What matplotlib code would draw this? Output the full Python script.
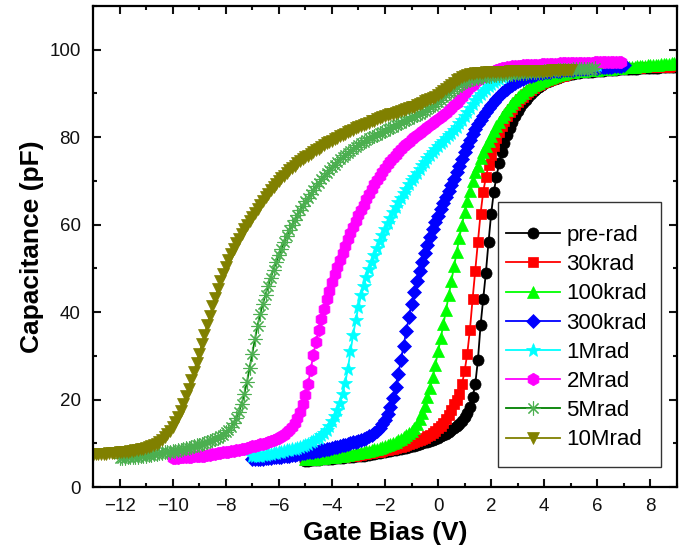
import numpy as np
import matplotlib
matplotlib.use("Agg")
import matplotlib.pyplot as plt
from matplotlib.ticker import MultipleLocator
from matplotlib.patches import Rectangle

plt.rcParams['font.family'] = ['Liberation Sans', 'DejaVu Sans']

labels = ["pre-rad", "30krad", "100krad", "300krad", "1Mrad", "2Mrad", "5Mrad", "10Mrad"]
v_start = [-5.0, -5.0, -5.0, -7.0, -7.0, -10.0, -12.0, -13.0]
v_step = 0.1

C_pre = [6.0,6.05,6.1,6.15,6.2,6.25,6.3,6.35,6.4,6.45, 6.5,6.55,6.6,6.65,6.7,6.75,6.8,6.9,6.95,7.0,
         7.1,7.15,7.2,7.3,7.4,7.5,7.6,7.7,7.8,7.95,
         8.1,8.2,8.3,8.4,8.5,8.6,8.75,8.9,9.0,9.15,
         9.3,9.45,9.6,9.8,10.0,10.2,10.4,10.6,10.8,11.0,
         11.3,11.6,11.9,12.2,12.6,13.0,13.4,13.9,14.5,15.2,
         16.0,17.0,18.3,20.5,23.5,29.0,37.0,43.0,49.0,56.0,
         62.5,67.5,71.0,74.0,76.5,78.7,80.5,82.1,83.5,84.8,
         85.9,86.9,87.8,88.6,89.3,89.9,90.5,91.0,91.5,91.9,
         92.3,92.6,92.9,93.2,93.4,93.6,93.8,94.0,94.2,94.3,
         94.4,94.5,94.6,94.7,94.8,94.85,94.9,94.95,95.0,95.05,
         95.1,95.15,95.2,95.25,95.3,95.35,95.4,95.45,95.5,95.5,
         95.55,95.6,95.6,95.65,95.7,95.7,95.75,95.8,95.8,95.85,
         95.85,95.9,95.9,95.9,95.95,95.95,96.0,96.0,96.0,96.0,96.0]

C_30k = [6.2,6.25,6.3,6.35,6.4,6.45,6.5,6.55,6.6,6.65,
         6.7,6.75,6.8,6.85,6.9,6.95,7.0,7.1,7.15,7.2,
         7.3,7.4,7.5,7.6,7.7,7.8,7.9,8.0,8.1,8.25,
         8.4,8.5,8.65,8.8,8.95,9.1,9.25,9.4,9.6,9.8,
         10.0,10.2,10.45,10.7,11.0,11.3,11.6,12.0,12.4,12.9,
         13.4,14.0,14.7,15.5,16.4,17.5,18.9,20.0,21.3,23.5,
         26.5,30.5,36.0,43.0,49.5,56.0,62.5,67.5,70.8,73.6,
         76.0,78.0,79.7,81.2,82.5,83.7,84.8,85.7,86.5,87.3,
         88.0,88.7,89.3,89.9,90.4,90.9,91.3,91.7,92.0,92.3,
         92.6,92.9,93.1,93.3,93.5,93.7,93.9,94.1,94.3,94.45,
         94.6,94.7,94.8,94.9,95.0,95.05,95.1,95.15,95.2,95.25,
         95.3,95.35,95.4,95.45,95.5,95.55,95.6,95.65,95.7,95.7,
         95.75,95.8,95.8,95.85,95.85,95.9,95.9,95.95,95.95,96.0,
         96.0,96.05,96.05,96.1,96.1,96.1,96.15,96.15,96.2,96.2,96.2]

C_100k = [6.3,6.35,6.4,6.45,6.5,6.55,6.6,6.7,6.75,6.8,
          6.9,6.95,7.0,7.1,7.2,7.3,7.4,7.5,7.6,7.7,
          7.8,7.9,8.0,8.15,8.3,8.45,8.6,8.8,9.0,9.2,
          9.4,9.6,9.85,10.1,10.4,10.7,11.0,11.4,11.8,12.3,
          12.9,13.6,14.5,15.6,17.0,18.6,20.5,22.7,25.2,28.0,
          31.0,34.0,37.2,40.5,43.8,47.0,50.5,53.8,57.0,60.0,
          62.8,65.4,67.8,70.0,72.0,73.5,75.2,76.7,78.0,79.2,
          80.3,81.4,82.5,83.5,84.5,85.4,86.3,87.1,87.8,88.5,
          89.1,89.7,90.2,90.7,91.1,91.5,91.9,92.2,92.5,92.8,
          93.1,93.35,93.6,93.8,94.0,94.2,94.35,94.5,94.65,94.8,
          94.9,95.0,95.05,95.1,95.15,95.2,95.25,95.3,95.35,95.4,
          95.45,95.5,95.55,95.6,95.65,95.7,95.75,95.8,95.85,95.9,
          95.95,96.0,96.05,96.1,96.15,96.2,96.25,96.3,96.35,96.4,
          96.45,96.5,96.55,96.6,96.65,96.7,96.75,96.8,96.85,96.9,96.95]

C_300k = [6.3,6.35,6.4,6.45,6.5,6.55,6.6,6.7,6.75,6.8,
          6.9,6.95,7.0,7.1,7.2,7.3,7.4,7.5,7.6,7.7,
          7.8,7.9,8.0,8.1,8.2,8.3,8.4,8.5,8.65,8.8,
          8.95,9.1,9.25,9.4,9.55,9.7,9.85,10.0,10.2,10.4,
          10.6,10.8,11.0,11.3,11.6,12.0,12.4,12.9,13.5,14.3,
          15.3,16.6,18.3,20.4,22.9,25.8,29.0,32.3,35.6,38.8,
          41.9,44.6,47.1,49.4,51.5,53.5,55.4,57.2,58.9,60.5,
          62.0,63.5,64.9,66.3,67.7,69.1,70.5,72.0,73.5,75.0,
          76.5,78.0,79.4,80.7,81.9,83.0,84.0,84.9,85.8,86.6,
          87.4,88.1,88.8,89.4,90.0,90.6,91.1,91.6,92.0,92.4,
          92.8,93.1,93.4,93.7,93.9,94.1,94.3,94.5,94.6,94.7,
          94.8,94.9,95.0,95.05,95.1,95.15,95.2,95.25,95.3,95.35,
          95.4,95.45,95.5,95.55,95.6,95.65,95.7,95.75,95.8,95.85,
          95.9,95.95,96.0,96.05,96.1,96.15,96.2,96.25,96.3,96.35,96.4]

C_1M = [7.0,7.05,7.1,7.2,7.3,7.4,7.5,7.6,7.7,7.8,
        7.9,8.0,8.2,8.35,8.5,8.65,8.8,9.0,9.2,9.4,
        9.6,9.9,10.2,10.5,10.9,11.3,11.8,12.4,13.1,14.0,
        15.0,16.2,17.6,19.3,21.3,23.8,27.0,31.0,34.8,38.2,
        41.2,43.8,46.0,48.0,49.8,51.5,53.1,54.7,56.2,57.6,
        59.0,60.3,61.6,62.8,64.0,65.1,66.2,67.2,68.2,69.2,
        70.1,71.0,71.9,72.8,73.6,74.4,75.2,75.9,76.6,77.3,
        78.0,78.6,79.2,79.8,80.4,81.0,81.7,82.4,83.2,84.0,
        84.9,85.8,86.7,87.6,88.4,89.1,89.8,90.5,91.1,91.7,
        92.2,92.6,93.0,93.4,93.8,94.1,94.4,94.7,94.9,95.1,
        95.3,95.4,95.5,95.55,95.6,95.65,95.7,95.75,95.8,95.85,
        95.9,95.95,96.0,96.0,96.05,96.1,96.1,96.15,96.2,96.2,
        96.25,96.3,96.3,96.35,96.4,96.4,96.45,96.5,96.5,96.55,96.6]

C_2M = [6.6,6.65,6.7,6.75,6.8,6.85,6.9,6.95,7.0,7.05,
        7.1,7.15,7.2,7.3,7.4,7.5,7.6,7.7,7.8,7.9,
        8.0,8.1,8.2,8.3,8.4,8.5,8.65,8.8,8.95,9.1,
        9.3,9.45,9.6,9.75,9.9,10.1,10.3,10.5,10.75,11.0,
        11.3,11.6,12.0,12.5,13.1,13.8,14.7,15.8,17.2,19.0,
        21.0,23.5,26.8,30.2,33.2,36.0,38.5,40.8,42.9,44.9,
        46.8,48.6,50.3,52.0,53.6,55.1,56.6,58.0,59.4,60.8,
        62.1,63.4,64.6,65.8,67.0,68.1,69.2,70.2,71.2,72.1,
        73.0,73.8,74.6,75.3,76.0,76.7,77.3,77.9,78.5,79.0,
        79.5,80.0,80.5,81.0,81.4,81.9,82.3,82.8,83.2,83.7,
        84.1,84.6,85.1,85.6,86.1,86.7,87.3,87.9,88.6,89.3,
        90.0,90.7,91.4,92.0,92.6,93.1,93.6,94.0,94.4,94.7,
        95.0,95.2,95.4,95.6,95.75,95.9,96.0,96.1,96.2,96.25,
        96.3,96.35,96.4,96.45,96.5,96.5,96.55,96.6,96.6,96.65,
        96.7,96.7,96.75,96.75,96.8,96.8,96.85,96.85,96.9,96.9,
        96.9,96.95,96.95,97.0,97.0,97.0,97.05,97.05,97.05,97.1,
        97.1,97.1,97.1,97.15,97.15,97.15,97.2,97.2,97.2,97.2]

C_5M = [6.6,6.65,6.7,6.75,6.8,6.85,6.9,6.95,7.0,7.1,
        7.2,7.3,7.4,7.5,7.6,7.7,7.8,7.9,8.0,8.1,
        8.2,8.3,8.4,8.55,8.7,8.85,9.0,9.15,9.3,9.5,
        9.7,9.9,10.1,10.3,10.5,10.75,11.0,11.3,11.6,12.0,
        12.5,13.1,13.8,14.7,15.8,17.2,19.0,21.3,24.0,27.2,
        30.5,33.8,36.9,39.6,41.9,44.0,46.0,47.9,49.7,51.4,
        53.0,54.5,56.0,57.4,58.7,59.9,61.1,62.2,63.3,64.3,
        65.3,66.2,67.1,68.0,68.8,69.6,70.4,71.1,71.8,72.5,
        73.1,73.7,74.3,74.9,75.4,75.9,76.4,76.9,77.4,77.8,
        78.2,78.6,79.0,79.4,79.7,80.0,80.3,80.6,80.9,81.2,
        81.5,81.8,82.1,82.4,82.7,83.0,83.3,83.6,83.9,84.2,
        84.5,84.8,85.1,85.4,85.7,86.0,86.4,86.8,87.2,87.6,
        88.1,88.6,89.1,89.6,90.1,90.6,91.1,91.5,91.9,92.3,
        92.6,92.9,93.1,93.3,93.5,93.6,93.7,93.8,93.9,94.0,
        94.1,94.15,94.2,94.25,94.3,94.35,94.4,94.45,94.5,94.55,
        94.6,94.65,94.7,94.75,94.8,94.85,94.9,94.95,95.0,95.0,
        95.05,95.1,95.15,95.2,95.2,95.25,95.3,95.35,95.4,95.4,
        95.45,95.5,95.5,95.55,95.6,95.6,95.65,95.7,95.7,95.75]

C_10M = [7.4,7.45,7.5,7.55,7.6,7.65,7.7,7.75,7.8,7.85,
         7.9,7.95,8.0,8.1,8.2,8.3,8.4,8.5,8.6,8.75,
         8.9,9.1,9.3,9.6,9.9,10.3,10.8,11.4,12.1,12.9,
         13.8,14.8,16.0,17.4,19.0,20.7,22.5,24.4,26.4,28.4,
         30.5,32.6,34.8,37.0,39.2,41.3,43.3,45.2,47.0,48.7,
         50.3,51.8,53.2,54.5,55.7,56.8,57.9,58.9,59.9,60.9,
         61.8,62.7,63.6,64.5,65.4,66.3,67.1,67.9,68.6,69.3,
         70.0,70.6,71.2,71.8,72.4,73.0,73.5,74.0,74.5,75.0,
         75.4,75.8,76.2,76.6,77.0,77.4,77.8,78.2,78.6,78.9,
         79.2,79.6,79.9,80.2,80.5,80.8,81.1,81.4,81.7,82.0,
         82.3,82.6,82.8,83.1,83.3,83.6,83.8,84.1,84.3,84.5,
         84.8,85.0,85.2,85.4,85.6,85.8,86.0,86.2,86.4,86.6,
         86.8,87.0,87.3,87.6,87.9,88.2,88.5,88.8,89.0,89.3,
         89.6,90.0,90.5,91.0,91.5,92.0,92.5,93.0,93.4,93.7,
         94.0,94.2,94.35,94.5,94.6,94.65,94.7,94.75,94.8,94.85,
         94.9,94.9,94.95,94.95,95.0,95.0,95.0,95.05,95.05,95.05,
         95.1,95.1,95.1,95.1,95.15,95.15,95.15,95.15,95.2,95.2,
         95.2,95.2,95.2,95.25,95.25,95.25,95.25,95.3,95.3,95.3,95.3]

series = [C_pre, C_30k, C_100k, C_300k, C_1M, C_2M, C_5M, C_10M]

line_colors = ["#000000", "#FF0000", "#00FF00", "#0000FF", "#00FFFF", "#FF00FF", "#008000", "#808000"]
face_colors = ["#000000", "#FF0000", "#00FF00", "#0000FF", "#00FFFF", "#FF00FF", "none", "#808000"]
edge_colors = ["#000000", "#FF0000", "#00FF00", "#0000FF", "#00FFFF", "#FF00FF", "#4CAF50", "#808000"]
markers = ["o", "s", "^", "D", "*", "h", (8, 2, 0), "v"]
msizes = [8, 7, 8.5, 6.8, 10.5, 9, 10, 8.5]

fig = plt.figure(figsize=(6.92, 5.59), dpi=100)
ax = fig.add_axes([0.1344, 0.1288, 0.8439, 0.8605])

for lab, st, C, lc, fc, ec, mk, ms in zip(labels, v_start, series, line_colors,
                                          face_colors, edge_colors, markers, msizes):
    V = st + v_step * np.arange(len(C))
    ax.plot(V, C, color=lc, lw=1.3, marker=mk, ms=ms, mfc=fc, mec=ec,
            mew=0.8 if mk == (8, 2, 0) else 0.5, label=lab)

ax.set_xlim(-13, 9)
ax.set_ylim(0, 110)
ax.xaxis.set_major_locator(MultipleLocator(2))
ax.xaxis.set_minor_locator(MultipleLocator(1))
ax.yaxis.set_major_locator(MultipleLocator(20))
ax.yaxis.set_minor_locator(MultipleLocator(10))
ax.set_xticks(np.arange(-12, 9, 2))
ax.tick_params(which='both', direction='in', top=True, right=True, width=1.5,
               labelsize=13.5, colors='#111111')
ax.tick_params(which='major', length=6)
ax.tick_params(which='minor', length=3)
ax.tick_params(axis='x', pad=8)
ax.tick_params(axis='y', pad=9)
for sp in ax.spines.values():
    sp.set_linewidth(1.6)

ax.set_xlabel("Gate Bias (V)", fontsize=19, fontweight='bold', labelpad=4)
ax.set_ylabel("Capacitance (pF)", fontsize=19, fontweight='bold', labelpad=4)

# legend frame drawn as a box in axes coordinates
ax.add_patch(Rectangle((0.693, 0.042), 0.280, 0.551, transform=ax.transAxes,
                       facecolor='white', edgecolor='#333333', lw=1.0, zorder=4.5))
leg = ax.legend(loc='upper left', bbox_to_anchor=(0.708, 0.545), borderaxespad=0,
                fontsize=16, frameon=False, handlelength=2.4, handletextpad=0.3,
                labelspacing=0.37, borderpad=0)
leg.set_zorder(5)

fig.savefig("out.png", dpi=100)
